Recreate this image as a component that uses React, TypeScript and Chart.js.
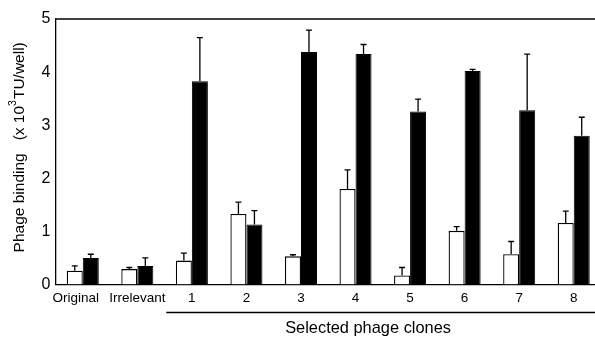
import React, { useEffect, useRef } from 'react';
import { Chart, registerables } from 'chart.js';

Chart.register(...registerables);

const categories = ['Original', 'Irrelevant', '1', '2', '3', '4', '5', '6', '7', '8'];
const whiteValues = [0.26, 0.29, 0.45, 1.33, 0.53, 1.8, 0.17, 1.01, 0.57, 1.16];
const whiteErrors = [0.09, 0.03, 0.14, 0.22, 0.03, 0.36, 0.15, 0.08, 0.24, 0.22];
const blackValues = [0.5, 0.35, 3.83, 1.13, 4.38, 4.34, 3.26, 4.02, 3.28, 2.8];
const blackErrors = [0.07, 0.15, 0.82, 0.26, 0.41, 0.18, 0.23, 0.03, 1.06, 0.35];
const yMin = 0;
const yMax = 5;
const yStep = 1;
const yTitleMain = 'Phage binding';
const yTitleUnitPre = '(x 10';
const yTitleUnitSup = '3';
const yTitleUnitPost = 'TU/well)';
const groupLabel = 'Selected phage clones';
const groupFirstIndex = 2;

const FONT = '"Liberation Sans", Arial, Helvetica, sans-serif';

export default function App() {
  const ref = useRef<HTMLCanvasElement | null>(null);

  useEffect(() => {
    if (!ref.current) return;
    const errorsByDataset = [whiteErrors, blackErrors];

    const decorations = {
      id: 'decorations',
      afterDatasetsDraw(chart: any) {
        const ctx = chart.ctx;
        const y = chart.scales.y;
        ctx.save();
        ctx.strokeStyle = '#000';
        ctx.lineWidth = 1.3;
        chart.data.datasets.forEach((ds: any, i: number) => {
          const meta = chart.getDatasetMeta(i);
          const errs = errorsByDataset[i];
          meta.data.forEach((bar: any, j: number) => {
            const top = y.getPixelForValue(ds.data[j] + errs[j]);
            const x = bar.x;
            ctx.beginPath();
            ctx.moveTo(x, bar.y);
            ctx.lineTo(x, top);
            ctx.moveTo(x - 3, top);
            ctx.lineTo(x + 3, top);
            ctx.stroke();
          });
        });
        ctx.restore();
      },
      afterDraw(chart: any) {
        const ctx = chart.ctx;
        const area = chart.chartArea;
        const xs = chart.scales.x;
        ctx.save();
        ctx.strokeStyle = '#000';
        ctx.fillStyle = '#000';
        ctx.lineWidth = 1.3;
        // top frame line
        ctx.beginPath();
        ctx.moveTo(area.left, area.top);
        ctx.lineTo(area.right, area.top);
        ctx.stroke();
        // x category labels
        ctx.font = `13.5px ${FONT}`;
        ctx.textAlign = 'center';
        ctx.textBaseline = 'alphabetic';
        chart.data.labels.forEach((lab: string, i: number) => {
          const shift = i === 0 ? -7 : 0;
          ctx.fillText(lab, xs.getPixelForValue(i) + shift, 301.5);
        });
        // group bracket line
        const startX = xs.getPixelForValue(groupFirstIndex - 0.47);
        const lineY = 312.5;
        ctx.beginPath();
        ctx.moveTo(startX, lineY);
        ctx.lineTo(area.right, lineY);
        ctx.stroke();
        // group label
        ctx.font = `16.4px ${FONT}`;
        ctx.textAlign = 'left';
        ctx.textBaseline = 'alphabetic';
        const labelX = xs.getPixelForValue(4 - 0.29);
        ctx.fillText(groupLabel, labelX, 333.3);
        // y title (rotated, with superscript)
        ctx.translate(19.5, 147.3);
        ctx.rotate(-Math.PI / 2);
        ctx.textBaseline = 'middle';
        const big = 15.5;
        ctx.font = `${big}px ${FONT}`;
        const gap = '   ';
        const partA = yTitleMain + gap + yTitleUnitPre;
        const wA = ctx.measureText(partA).width;
        ctx.font = `10.5px ${FONT}`;
        const wS = ctx.measureText(yTitleUnitSup).width;
        ctx.font = `${big}px ${FONT}`;
        const wB = ctx.measureText(yTitleUnitPost).width;
        const total = wA + wS + 1 + wB;
        let x0 = -total / 2;
        ctx.fillText(partA, x0, 0);
        x0 += wA;
        ctx.font = `10.5px ${FONT}`;
        ctx.fillText(yTitleUnitSup, x0, -6.5);
        x0 += wS + 1;
        ctx.font = `${big}px ${FONT}`;
        ctx.fillText(yTitleUnitPost, x0, 0);
        ctx.restore();
      },
    };

    const chart = new Chart(ref.current, {
      type: 'bar',
      data: {
        labels: categories,
        datasets: [
          {
            data: whiteValues,
            backgroundColor: '#ffffff',
            borderColor: '#000000',
            borderWidth: 1.3,
            categoryPercentage: 0.587,
            barPercentage: 1,
          },
          {
            data: blackValues,
            backgroundColor: '#000000',
            borderColor: '#000000',
            borderWidth: 1,
            categoryPercentage: 0.587,
            barPercentage: 1,
          },
        ],
      },
      options: {
        responsive: false,
        animation: false,
        devicePixelRatio: 1,
        layout: { padding: { top: 19, left: 0, right: 0, bottom: 0 } },
        plugins: { legend: { display: false }, tooltip: { enabled: false }, title: { display: false } },
        scales: {
          x: {
            offset: true,
            grid: { display: false, drawTicks: false, tickLength: 0 },
            border: { display: true, color: '#000', width: 1.3 },
            ticks: { display: false, autoSkip: false },
            afterFit: (s: any) => {
              s.height = 53.5;
            },
          },
          y: {
            min: yMin,
            max: yMax,
            grid: { display: false, drawTicks: false, tickLength: 0 },
            border: { display: true, color: '#000', width: 1.3 },
            ticks: { stepSize: yStep, color: '#000', font: { family: FONT, size: 16 }, padding: 5 },
            afterFit: (s: any) => {
              s.width = 55.5;
            },
          },
        },
      },
      plugins: [decorations],
    });
    return () => chart.destroy();
  }, []);

  return (
    <div style={{ position: 'absolute', left: 0, top: 0, width: 595, height: 338, overflow: 'hidden', background: '#fff' }}>
      <canvas ref={ref} width={601} height={338} style={{ display: 'block', width: 601, height: 338 }} />
    </div>
  );
}
